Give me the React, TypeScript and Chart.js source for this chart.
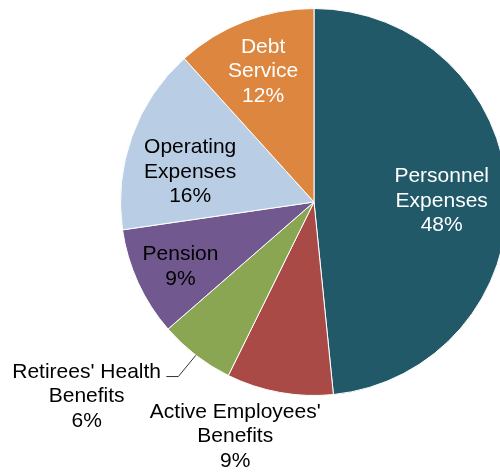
import React, { useEffect, useRef } from "react";
import { Chart, registerables } from "chart.js";

Chart.register(...registerables);

const categories = [
  "Personnel Expenses",
  "Active Employees' Benefits",
  "Retirees' Health Benefits",
  "Pension",
  "Operating Expenses",
  "Debt Service",
];
const values = [48.4, 8.9, 6.3, 9.1, 15.6, 11.7];
const labelLines = [
  ["Personnel", "Expenses"],
  ["Active Employees'", "Benefits"],
  ["Retirees' Health", "Benefits"],
  ["Pension"],
  ["Operating", "Expenses"],
  ["Debt", "Service"],
];

const colors = ["#215968", "#A94A47", "#8BA653", "#71598F", "#B9CDE5", "#DD863F"];
const textColors = ["#FFFFFF", "#000000", "#000000", "#000000", "#000000", "#FFFFFF"];
// label centre positions as fractions of radius from pie centre
const labelPos = [
  [0.66, -0.005],
  [-0.407, 1.211],
  [-1.175, 1.005],
  [-0.69, 0.335],
  [-0.64, -0.155],
  [-0.263, -0.675],
];

const labelPlugin = {
  id: "sliceLabels",
  afterDraw(chart: any) {
    const ctx = chart.ctx;
    const meta = chart.getDatasetMeta(0);
    const total = values.reduce((a, b) => a + b, 0);
    ctx.save();
    ctx.font = '21px "Liberation Sans", Arial, sans-serif';
    ctx.textAlign = "center";
    ctx.textBaseline = "middle";
    const lh = 24.5;
    meta.data.forEach((arc: any, i: number) => {
      const cx = arc.x, cy = arc.y, r = arc.outerRadius;
      const lines = [...labelLines[i], Math.round((values[i] / total) * 100) + "%"];
      const px = cx + labelPos[i][0] * r;
      const py = cy + labelPos[i][1] * r;
      ctx.fillStyle = textColors[i];
      const start = py - ((lines.length - 1) * lh) / 2;
      lines.forEach((t, k) => ctx.fillText(t, px, start + k * lh));
      if (i === 2) {
        const mid = (arc.startAngle + arc.endAngle) / 2;
        const ex = cx + Math.cos(mid) * r;
        const ey = cy + Math.sin(mid) * r;
        ctx.strokeStyle = "#333333";
        ctx.lineWidth = 1;
        ctx.beginPath();
        ctx.moveTo(ex, ey);
        ctx.lineTo(cx - 0.701 * r, cy + 0.902 * r);
        ctx.lineTo(cx - 0.763 * r, cy + 0.902 * r);
        ctx.stroke();
      }
    });
    ctx.restore();
  },
};

export default function App() {
  const ref = useRef<HTMLCanvasElement>(null);
  useEffect(() => {
    if (!ref.current) return;
    const chart = new Chart(ref.current, {
      type: "pie",
      data: {
        labels: categories,
        datasets: [
          {
            data: values,
            backgroundColor: colors,
            borderColor: "#FFFFFF",
            borderWidth: 1,
          },
        ],
      },
      options: {
        responsive: false,
        animation: false,
        layout: { padding: { top: 8, bottom: 80, left: 0, right: 0 } },
        plugins: { legend: { display: false }, tooltip: { enabled: false } },
      },
      plugins: [labelPlugin],
    });
    return () => chart.destroy();
  }, []);
  return (
    <div
      style={{
        position: "fixed",
        top: 0,
        left: 0,
        width: 500,
        height: 476,
        overflow: "hidden",
        background: "#FFFFFF",
      }}
    >
      <canvas ref={ref} width={628} height={476} style={{ display: "block" }} />
    </div>
  );
}
